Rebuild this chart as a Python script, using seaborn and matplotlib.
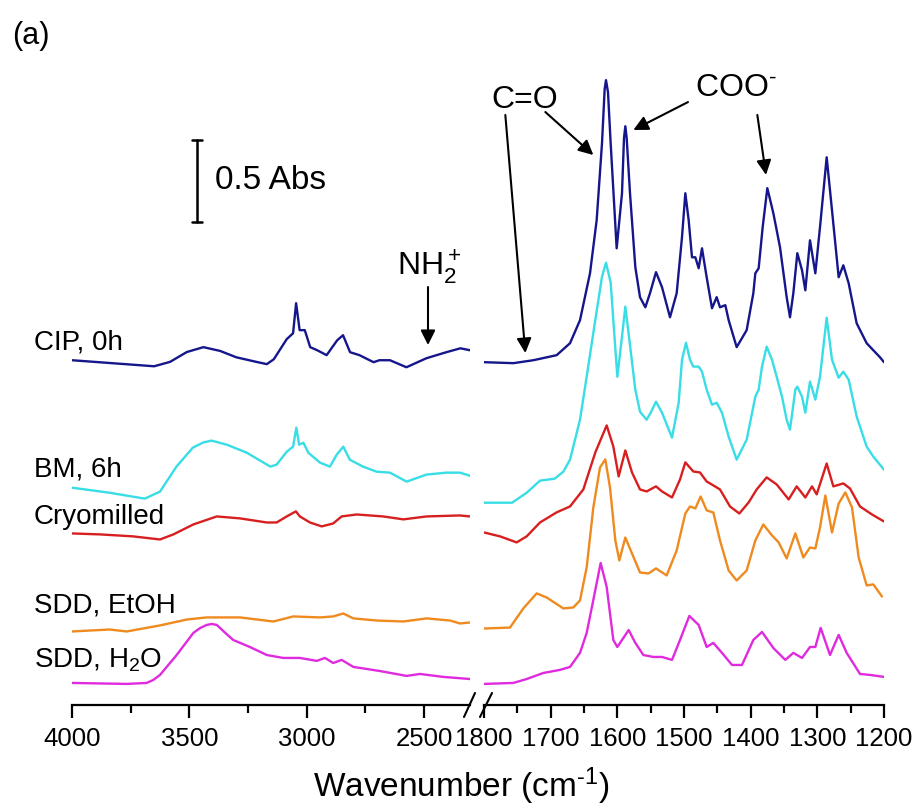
import numpy as np
import pandas as pd
import matplotlib
matplotlib.use("Agg")
import matplotlib.pyplot as plt
import seaborn as sns
from matplotlib.lines import Line2D

sns.set_style("ticks")
plt.rcParams["font.family"] = ["Liberation Sans", "DejaVu Sans"]
plt.rcParams["text.color"] = "black"
plt.rcParams["axes.labelcolor"] = "black"
plt.rcParams["xtick.color"] = "black"
plt.rcParams["axes.edgecolor"] = "black"
plt.rcParams["mathtext.fontset"] = "custom"
plt.rcParams["mathtext.rm"] = "Liberation Sans"
plt.rcParams["mathtext.it"] = "Liberation Sans:italic"
plt.rcParams["mathtext.bf"] = "Liberation Sans:bold"
plt.rcParams["mathtext.default"] = "regular"

# ---- samples, colours and vertical stacking offsets (Abs) ----
samples = ["CIP, 0h", "BM, 6h", "Cryomilled", "SDD, EtOH", "SDD, H$_2$O"]
colors = ["#16168c", "#38dde6", "#d81f1f", "#ef8a1f", "#e02ade"]
offsets = [2.11, 1.33, 1.05, 0.45, 0.135]

# ---- high-wavenumber region (4000-2300 cm-1) ----
cip_hi_wn = [4000, 3650, 3582, 3511, 3440, 3369, 3300, 3227, 3170, 3140, 3085, 3058, 3045, 3030, 3008,
             2985, 2955, 2915, 2870, 2845, 2815, 2775, 2715, 2690, 2645, 2575, 2490, 2405, 2345, 2304]
cip_hi_abs = [0, -0.037, -0.010, 0.050, 0.080, 0.057, 0.018, -0.006, -0.024, 0.006, 0.129, 0.165, 0.349,
              0.184, 0.184, 0.080, 0.061, 0.031, 0.122, 0.153, 0.049, 0.031, -0.012, 0, 0, -0.043,
              0.012, 0.049, 0.073, 0.061]

bm_hi_wn = [4000, 3840, 3690, 3625, 3555, 3485, 3440, 3405, 3340, 3255, 3155, 3128, 3085, 3058, 3044,
            3032, 3014, 2993, 2943, 2901, 2872, 2844, 2816, 2760, 2702, 2645, 2574, 2490, 2404, 2347,
            2304]
bm_hi_abs = [0, -0.031, -0.067, -0.024, 0.129, 0.245, 0.277, 0.288, 0.263, 0.214, 0.129, 0.141, 0.220,
             0.251, 0.367, 0.263, 0.275, 0.214, 0.153, 0.129, 0.202, 0.251, 0.171, 0.129, 0.098, 0.092,
             0.037, 0.080, 0.092, 0.092, 0.073]

cryo_hi_wn = [4000, 3880, 3740, 3625, 3568, 3483, 3383, 3284, 3170, 3128, 3085, 3046, 3029, 2986,
              2936, 2887, 2851, 2787, 2674, 2588, 2489, 2347, 2304]
cryo_hi_abs = [0, -0.006, -0.018, -0.037, -0.006, 0.055, 0.104, 0.092, 0.067, 0.067, 0.104, 0.135,
               0.104, 0.067, 0.043, 0.061, 0.104, 0.116, 0.104, 0.086, 0.104, 0.110, 0.104]

etoh_hi_wn = [4000, 3840, 3767, 3625, 3511, 3426, 3284, 3142, 3057, 2943, 2887, 2844, 2801, 2702,
              2588, 2489, 2389, 2347, 2304]
etoh_hi_abs = [0, 0.012, 0, 0.037, 0.073, 0.086, 0.086, 0.061, 0.092, 0.086, 0.092, 0.110, 0.080,
               0.067, 0.061, 0.080, 0.067, 0.049, 0.055]

h2o_hi_wn = [4000, 3767, 3682, 3654, 3625, 3554, 3483, 3455, 3426, 3405, 3383, 3348, 3313, 3242, 3170,
             3100, 3029, 2957, 2922, 2887, 2851, 2801, 2688, 2574, 2517, 2418, 2304]
h2o_hi_abs = [0, -0.006, 0, 0.018, 0.049, 0.171, 0.306, 0.335, 0.355, 0.361, 0.355, 0.308, 0.263, 0.220,
              0.171, 0.153, 0.153, 0.135, 0.153, 0.122, 0.141, 0.098, 0.073, 0.043, 0.055, 0.037, 0.024]

# ---- fingerprint region (1800-1200 cm-1) ----
cip_fp_wn = [1800, 1756, 1726, 1691, 1671, 1656, 1641, 1631, 1623, 1619, 1617, 1614, 1610, 1601, 1593,
             1590, 1588, 1586, 1581, 1573, 1566, 1558, 1551, 1542, 1533, 1521, 1511, 1503, 1498, 1493,
             1488, 1483, 1478, 1473, 1466, 1458, 1451, 1446, 1438, 1433, 1421, 1406, 1396, 1393, 1388,
             1382, 1375, 1366, 1356, 1346, 1341, 1336, 1330, 1323, 1318, 1311, 1303, 1296, 1286, 1278,
             1268, 1261, 1253, 1241, 1226, 1206, 1200]
cip_fp_abs = [-0.012, -0.018, 0, 0.031, 0.104, 0.245, 0.532, 0.857, 1.328, 1.660, 1.714, 1.640, 1.328,
              0.685, 1.022, 1.360, 1.432, 1.360, 1.022, 0.569, 0.386, 0.324, 0.410, 0.539, 0.447, 0.263,
              0.410, 0.753, 1.022, 0.857, 0.630, 0.630, 0.563, 0.685, 0.508, 0.318, 0.386, 0.324, 0.337,
              0.245, 0.080, 0.184, 0.410, 0.532, 0.563, 0.814, 1.053, 0.900, 0.692, 0.386, 0.263, 0.410,
              0.655, 0.551, 0.428, 0.734, 0.532, 0.814, 1.242, 0.918, 0.508, 0.581, 0.471, 0.226, 0.104,
              0.018, -0.012]

bm_fp_wn = [1800, 1758, 1736, 1716, 1694, 1681, 1671, 1656, 1646, 1633, 1623, 1617, 1610, 1600, 1593,
            1588, 1582, 1573, 1566, 1556, 1550, 1542, 1533, 1518, 1508, 1503, 1497, 1491, 1486, 1478,
            1473, 1466, 1458, 1451, 1443, 1433, 1421, 1406, 1393, 1388, 1383, 1376, 1368, 1361, 1353,
            1346, 1341, 1333, 1330, 1323, 1318, 1311, 1303, 1296, 1286, 1278, 1268, 1261, 1253, 1241,
            1226, 1216, 1200]
bm_fp_abs = [-0.092, -0.092, -0.031, 0.043, 0.055, 0.098, 0.171, 0.416, 0.679, 1.028, 1.291, 1.377,
             1.255, 0.679, 0.924, 1.108, 0.906, 0.600, 0.465, 0.416, 0.459, 0.526, 0.459, 0.306, 0.520,
             0.783, 0.887, 0.783, 0.741, 0.741, 0.710, 0.600, 0.508, 0.520, 0.459, 0.312, 0.171, 0.294,
             0.557, 0.600, 0.741, 0.863, 0.783, 0.679, 0.557, 0.416, 0.355, 0.600, 0.618, 0.557, 0.459,
             0.649, 0.539, 0.679, 1.040, 0.783, 0.673, 0.710, 0.661, 0.435, 0.251, 0.190, 0.110]

cryo_fp_wn = [1800, 1776, 1751, 1736, 1716, 1691, 1671, 1651, 1633, 1616, 1606, 1598, 1588, 1578, 1566,
              1556, 1542, 1533, 1518, 1506, 1498, 1486, 1476, 1466, 1456, 1446, 1431, 1417, 1403, 1391,
              1376, 1361, 1343, 1331, 1318, 1308, 1301, 1286, 1276, 1261, 1251, 1236, 1218, 1200]
cryo_fp_abs = [0.006, -0.018, -0.055, -0.018, 0.067, 0.129, 0.165, 0.269, 0.496, 0.661, 0.532, 0.349,
               0.508, 0.373, 0.269, 0.257, 0.288, 0.257, 0.220, 0.330, 0.435, 0.379, 0.373, 0.318, 0.294,
               0.269, 0.165, 0.122, 0.190, 0.269, 0.343, 0.300, 0.208, 0.288, 0.220, 0.288, 0.239, 0.428,
               0.288, 0.306, 0.275, 0.165, 0.116, 0.073]

etoh_fp_wn = [1800, 1761, 1741, 1721, 1706, 1681, 1666, 1656, 1646, 1636, 1626, 1618, 1611, 1603, 1597,
              1588, 1578, 1566, 1553, 1542, 1526, 1511, 1498, 1491, 1483, 1475, 1466, 1456, 1446, 1433,
              1421, 1406, 1393, 1381, 1368, 1358, 1346, 1333, 1321, 1311, 1303, 1296, 1288, 1278, 1268,
              1258, 1248, 1238, 1226, 1216, 1203]
etoh_fp_abs = [0.018, 0.024, 0.141, 0.233, 0.208, 0.141, 0.147, 0.190, 0.392, 0.759, 1.004, 1.053, 0.881,
               0.557, 0.435, 0.575, 0.477, 0.361, 0.355, 0.386, 0.343, 0.496, 0.722, 0.765, 0.753, 0.826,
               0.741, 0.728, 0.557, 0.373, 0.312, 0.373, 0.557, 0.655, 0.588, 0.545, 0.447, 0.600, 0.453,
               0.514, 0.508, 0.636, 0.832, 0.606, 0.783, 0.851, 0.759, 0.453, 0.282, 0.288, 0.214]

h2o_fp_wn = [1800, 1756, 1736, 1711, 1686, 1671, 1656, 1646, 1636, 1625, 1616, 1606, 1600, 1583, 1573,
             1561, 1546, 1533, 1518, 1506, 1492, 1478, 1466, 1456, 1443, 1428, 1413, 1396, 1383, 1366,
             1348, 1336, 1323, 1311, 1303, 1295, 1281, 1268, 1256, 1236, 1221, 1200]
h2o_fp_abs = [-0.006, 0, 0.024, 0.061, 0.080, 0.098, 0.184, 0.306, 0.508, 0.734, 0.588, 0.263, 0.220,
              0.324, 0.245, 0.171, 0.159, 0.159, 0.141, 0.263, 0.410, 0.355, 0.220, 0.245, 0.184, 0.110,
              0.110, 0.263, 0.312, 0.214, 0.141, 0.184, 0.153, 0.220, 0.220, 0.337, 0.171, 0.294, 0.184,
              0.055, 0.049, 0.037]

hi_wn = [cip_hi_wn, bm_hi_wn, cryo_hi_wn, etoh_hi_wn, h2o_hi_wn]
hi_abs = [cip_hi_abs, bm_hi_abs, cryo_hi_abs, etoh_hi_abs, h2o_hi_abs]
fp_wn = [cip_fp_wn, bm_fp_wn, cryo_fp_wn, etoh_fp_wn, h2o_fp_wn]
fp_abs = [cip_fp_abs, bm_fp_abs, cryo_fp_abs, etoh_fp_abs, h2o_fp_abs]


def stacked_frame(wn_sets, abs_sets):
    parts = []
    for name, off, wn, ab in zip(samples, offsets, wn_sets, abs_sets):
        parts.append(pd.DataFrame({"wn": wn, "A": np.asarray(ab, float) + off, "sample": name}))
    return pd.concat(parts, ignore_index=True)


df_hi = stacked_frame(hi_wn, hi_abs)
df_fp = stacked_frame(fp_wn, fp_abs)
palette = dict(zip(samples, colors))

# ---- figure geometry (pixels) ----
W, H = 915, 810
fig = plt.figure(figsize=(W / 100, H / 100), dpi=100)


def fx(px):
    return px / W


def fy(py):
    return 1 - py / H


bottom_px, top_px = 705, 40
axL = fig.add_axes([fx(72), fy(bottom_px), fx(470) - fx(72), fy(top_px) - fy(bottom_px)])
axR = fig.add_axes([fx(484), fy(bottom_px), fx(884) - fx(484), fy(top_px) - fy(bottom_px)])

LW = 1.7
for ax, df in ((axL, df_hi), (axR, df_fp)):
    sns.lineplot(data=df, x="wn", y="A", hue="sample", palette=palette, sort=False,
                 estimator=None, legend=False, ax=ax, linewidth=LW)
    for ln in ax.get_lines():
        ln.set_solid_joinstyle("round")

ymax = (bottom_px - top_px) / 163.4
axL.set_xlim(4000, 2304)
axR.set_xlim(1800, 1200)
for ax in (axL, axR):
    ax.set_ylim(0, ymax)
    ax.set_yticks([])
    ax.set_xlabel("")
    ax.set_ylabel("")
    for s in ("top", "right", "left"):
        ax.spines[s].set_visible(False)
    ax.spines["bottom"].set_linewidth(1.6)
    ax.tick_params(axis="x", which="major", direction="out", length=9.5, width=1.6,
                   labelsize=18.5, pad=6, colors="black")
    ax.tick_params(axis="x", which="minor", direction="out", length=5.5, width=1.6)
    ax.patch.set_alpha(0)

axL.set_xticks([4000, 3500, 3000, 2500])
axL.set_xticks([3750, 3250, 2750], minor=True)
axR.set_xticks(list(range(1800, 1199, -100)))
axR.set_xticks(list(range(1750, 1249, -100)), minor=True)

# axis-break marks
for x0, x1 in ((464, 475), (480, 492)):
    fig.add_artist(Line2D([fx(x0), fx(x1)], [fy(717), fy(693)], transform=fig.transFigure,
                          color="black", lw=1.5))

# sample names
label_baselines = [350, 476, 524, 613, 667]
for name, yb in zip(samples, label_baselines):
    fig.text(fx(34), fy(yb), name, fontsize=20, ha="left", va="baseline")

fig.text(fx(12), fy(44), "(a)", fontsize=22, ha="left", va="baseline")
fig.text(fx(461), fy(797), "Wavenumber (cm$^{\u2010 1}$)", fontsize=24, ha="center", va="baseline")

# 0.5 Abs scale bar
bar_x, bar_lo = 3467, 2.958
axL.plot([bar_x, bar_x], [bar_lo, bar_lo + 0.5], color="black", lw=1.8)
for yy in (bar_lo, bar_lo + 0.5):
    axL.plot([bar_x - 20, bar_x + 20], [yy, yy], color="black", lw=1.8)
axL.text(3391, bar_lo + 0.25, "0.5 Abs", fontsize=24, ha="left", va="center")

arrow = dict(arrowstyle="-|>", mutation_scale=22, lw=1.5, color="black", shrinkA=0, shrinkB=0)

# NH2+ band
axL.text(2615, 2.632, "NH$_2^+$", fontsize=23, ha="left", va="baseline")
axL.annotate("", xy=(2483, 2.203), xytext=(2483, 2.558), arrowprops=arrow, annotation_clip=False)

# C=O bands
axR.text(1789, 3.654, "C=O", fontsize=23, ha="left", va="baseline")
axR.annotate("", xy=(1738, 2.154), xytext=(1768, 3.611), arrowprops=arrow, annotation_clip=False)
axR.annotate("", xy=(1636, 3.366), xytext=(1708, 3.629), arrowprops=arrow, annotation_clip=False)

# COO- bands
axR.text(1483, 3.727, "COO$^{\u2010}$", fontsize=23, ha="left", va="baseline")
axR.annotate("", xy=(1576, 3.519), xytext=(1494, 3.690), arrowprops=arrow, annotation_clip=False)
axR.annotate("", xy=(1377, 3.244), xytext=(1390, 3.611), arrowprops=arrow, annotation_clip=False)

fig.savefig("out.png", dpi=100)
